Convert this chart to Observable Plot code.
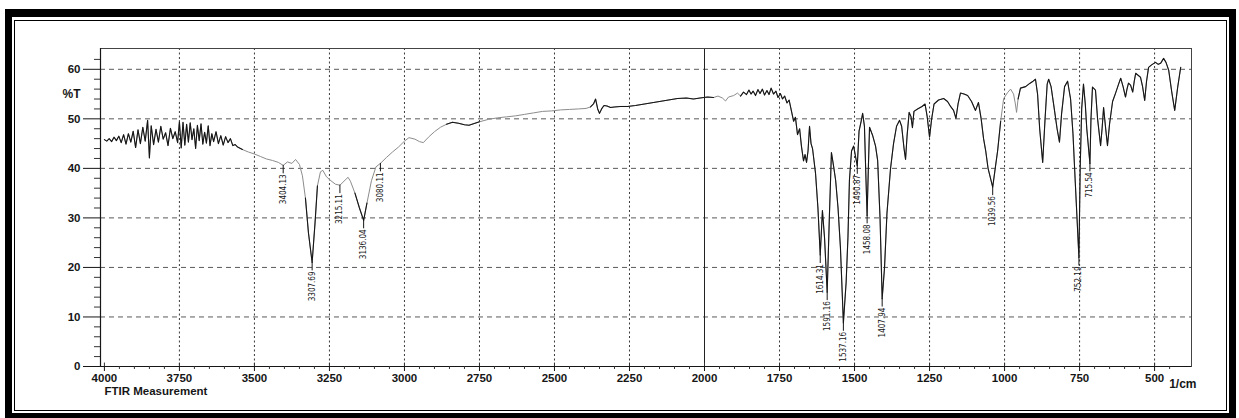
<!DOCTYPE html>
<html>
<head>
<meta charset="utf-8">
<script src="https://cdn.jsdelivr.net/npm/d3@7"></script>
<script src="https://cdn.jsdelivr.net/npm/@observablehq/plot@0.6"></script>
<style>
  html, body { margin: 0; padding: 0; background: #fff; width: 1239px; height: 418px; overflow: hidden; }
  #outer { position: absolute; left: 5px; top: 9px; width: 1231px; height: 411px; box-sizing: border-box;
           border: 7px solid #000; border-top-width: 8px; }
  #inner { position: absolute; left: 2px; top: 3px; right: 2px; bottom: 2px; border: 1px solid #000; }
  #chart { position: absolute; left: 0; top: 0; }
</style>
</head>
<body>
<div id="outer"><div id="inner"></div></div>
<div id="chart"></div>
<script>
// FTIR spectrum, %T against wavenumber (1/cm)

// Noisy water-vapour region, 4000–3556 1/cm
const noisyRegion = [
  [4000,45.8],[3992,45.5],[3984,46.0],[3976,45.4],[3968,46.3],[3960,45.6],[3952,46.5],[3944,45.2],
  [3936,46.8],[3928,44.9],[3920,47.0],[3912,45.3],[3904,47.5],[3896,44.2],[3888,47.8],[3880,45.0],
  [3872,48.3],[3864,45.5],[3856,49.7],[3850,42.1],[3844,48.6],[3836,44.8],[3828,47.9],[3820,45.3],
  [3812,48.5],[3804,45.9],[3796,47.2],[3788,44.6],[3780,48.1],[3772,46.0],[3764,47.4],[3756,45.2],
  [3750,49.4],[3744,44.1],[3738,49.3],[3732,44.7],[3726,48.9],[3720,45.3],[3714,49.2],[3708,45.8],
  [3702,48.0],[3696,44.0],[3690,48.7],[3684,45.6],[3678,49.0],[3672,44.9],[3666,47.3],[3660,45.1],
  [3654,48.6],[3648,44.6],[3642,47.0],[3636,45.4],[3628,47.4],[3620,45.0],[3612,46.6],[3604,44.7],
  [3596,46.4],[3588,45.2],[3580,46.0],[3572,44.6],[3564,44.8],[3556,44.3]
];

// N–H / C–H stretching region, 3540–2015 1/cm
const stretchRegion = [
  [3540,43.8],[3520,43.3],[3500,42.9],[3480,42.4],[3460,41.9],[3440,41.6],[3420,41.2],[3404.13,40.6],
  [3390,41.3],[3375,41.0],[3363,41.8],[3350,40.8],[3340,38.5],[3330,34.0],[3320,27.0],[3307.69,21.0],
  [3298,29.0],[3290,36.5],[3280,39.3],[3272,39.6],[3260,38.3],[3245,37.5],[3230,36.8],[3215.11,36.6],
  [3205,37.2],[3195,37.8],[3188,38.2],[3180,37.4],[3165,35.0],[3150,32.0],[3136.04,29.5],[3125,33.0],
  [3110,37.5],[3095,40.3],[3080.11,41.0],[3060,42.2],[3040,43.3],[3020,44.3],[3000,45.5],[2985,46.2],
  [2965,45.9],[2950,45.4],[2937,45.2],[2920,46.3],[2900,47.4],[2880,48.3],[2860,48.9],[2840,49.3],
  [2820,49.1],[2800,48.8],[2785,48.7],[2770,49.0],[2750,49.4],[2720,49.9],[2690,50.2],[2660,50.4],
  [2630,50.6],[2600,50.9],[2570,51.2],[2540,51.5],[2510,51.6],[2480,51.8],[2450,51.9],[2420,52.0],
  [2395,52.1],[2380,52.4],[2370,53.0],[2363,54.0],[2356,52.0],[2350,51.1],[2343,52.0],[2335,52.7],
  [2325,52.6],[2313,52.3],[2300,52.4],[2280,52.5],[2257,52.5],[2230,52.7],[2200,53.0],[2170,53.3],
  [2140,53.6],[2110,53.9],[2090,54.1],[2060,54.2],[2037,54.0],[2015,54.2]
];

// Double-bond and fingerprint region, 1990–413 1/cm
const fingerprintRegion = [
  [1990,54.4],[1970,54.3],[1955,54.6],[1940,54.2],[1930,53.6],[1920,54.4],[1903,54.7],[1890,55.2],
  [1880,54.6],[1870,55.4],[1860,54.9],[1852,55.8],[1845,55.0],[1838,55.6],[1830,54.7],[1822,55.9],
  [1815,55.1],[1807,56.0],[1800,54.8],[1792,55.7],[1785,54.9],[1778,56.2],[1770,55.0],[1762,55.6],
  [1755,54.3],[1747,55.1],[1740,54.0],[1733,54.6],[1725,53.2],[1718,53.8],[1710,51.5],[1703,49.5],
  [1697,50.3],[1690,46.8],[1683,48.0],[1677,44.5],[1670,41.5],[1665,42.8],[1660,41.2],[1655,43.5],
  [1650,48.5],[1645,45.0],[1640,44.0],[1630,39.0],[1622,32.0],[1614.31,22.5],[1607,31.5],[1600,26.0],
  [1591.16,15.0],[1584,30.0],[1577,43.2],[1570,40.5],[1563,37.6],[1555,32.0],[1547,24.0],[1537.16,8.8],
  [1528,17.0],[1522,26.0],[1517,37.6],[1510,43.5],[1503,44.5],[1497,42.5],[1490.87,40.5],[1485,47.5],
  [1478,49.5],[1473,51.1],[1467,48.5],[1462,38.0],[1458.08,30.5],[1454,40.0],[1450,48.3],[1440,46.7],
  [1430,44.5],[1423,41.6],[1415,30.0],[1407.94,13.7],[1400,20.0],[1392,30.9],[1380,40.0],[1370,45.0],
  [1360,48.5],[1350,49.7],[1343,48.5],[1335,44.0],[1330,41.8],[1325,46.5],[1318,51.3],[1312,50.5],
  [1307,48.2],[1302,51.5],[1290,52.0],[1275,52.5],[1265,53.0],[1258,50.5],[1250,46.3],[1243,50.0],
  [1235,53.0],[1220,53.8],[1203,54.1],[1190,53.5],[1180,52.5],[1170,51.7],[1162,50.1],[1155,53.0],
  [1147,55.2],[1135,55.0],[1123,54.7],[1110,53.5],[1097,51.7],[1087,53.3],[1078,50.0],[1070,46.0],
  [1063,43.6],[1055,40.0],[1039.56,36.2],[1030,40.5],[1023,43.6],[1013,49.5],[1003,54.1],[990,55.3],
  [980,56.0],[970,55.0],[964,53.0],[960,51.3],[955,54.0],[947,56.2],[930,56.5],[915,57.2],
  [905,57.6],[897,58.0],[890,55.0],[883,48.0],[873,41.2],[865,50.0],[858,57.0],[853,58.0],
  [845,56.5],[835,52.3],[825,48.0],[817,45.3],[810,51.0],[800,56.5],[790,57.6],[780,54.0],
  [772,47.0],[765,38.0],[752.19,22.0],[748,40.0],[743,52.0],[737,57.0],[731,53.0],[726,48.0],
  [715.54,41.0],[712,50.0],[707,56.4],[697,55.8],[690,50.0],[680,44.6],[675,48.0],[670,52.3],
  [663,48.0],[657,44.6],[650,49.0],[640,53.5],[630,55.2],[620,57.0],[613,58.2],[605,56.5],
  [597,54.4],[592,56.0],[587,57.2],[580,56.8],[573,55.4],[568,57.5],[563,59.2],[555,58.8],
  [547,58.4],[540,56.5],[533,53.7],[527,57.5],[520,60.4],[510,60.9],[497,61.4],[488,61.0],
  [480,61.2],[470,62.2],[462,61.4],[453,59.8],[443,55.5],[433,51.7],[423,56.4],[413,60.4]
];

// Labelled band minima (wavenumber as printed, %T at the minimum)
const peakWavenumbers = [3404.13, 3307.69, 3215.11, 3136.04, 3080.11, 1614.31, 1591.16, 1537.16,
                         1490.87, 1458.08, 1407.94, 1039.56, 752.19, 715.54];
const peakTransmittance = [40.6, 21.0, 36.6, 29.5, 41.0, 22.5, 15.0, 8.8,
                           40.5, 30.5, 13.7, 36.2, 22.0, 41.0];

// Axis ticks
const xTicks = [4000, 3750, 3500, 3250, 3000, 2750, 2500, 2250, 2000, 1750, 1500, 1250, 1000, 750, 500];
const yTicks = [0, 10, 20, 30, 40, 50, 60];
const xMinor = d3.range(3950, 400, -50).filter(v => v % 250 !== 0);
const yMinor = d3.range(2, 64, 2).filter(v => v % 10 !== 0);

// Wavenumber spans where the recorder pen printed at full darkness (rest is faint)
const strongInk = [[4000, 3540], [3330, 3290], [3165, 3120], [2860, 2740], [2385, 1960], [1885, 1010], [955, 413]];

const X0 = 4013, X1 = 377, Y0 = 0, Y1 = 64.2;

const spectrum = [...noisyRegion, ...stretchRegion, ...fingerprintRegion].map(([wn, t]) => ({wn, t}));
const peaks = peakWavenumbers.map((wn, i) => ({wn, t: peakTransmittance[i], label: wn.toFixed(2)}));
const strongSegments = strongInk.flatMap(([hi, lo], k) =>
  spectrum.filter(d => d.wn <= hi && d.wn >= lo).map(d => ({...d, k})));

const ink = "#161616";

const chart = Plot.plot({
  width: 1239,
  height: 418,
  marginLeft: 100,
  marginRight: 48,
  marginTop: 48,
  marginBottom: 52,
  style: {
    background: "transparent",
    fontFamily: "'Liberation Sans', Arial, sans-serif",
    fontSize: "11.5px",
    fontWeight: "bold",
    color: ink,
    overflow: "visible"
  },
  x: {domain: [X0, X1], ticks: xTicks, tickSize: 5, tickPadding: 2, tickFormat: d => String(d), label: null},
  y: {domain: [Y0, Y1], ticks: yTicks, tickSize: 17, tickPadding: 3, tickFormat: d => String(d), label: null},
  marks: [
    // grid
    Plot.ruleY(yTicks.filter(v => v > 0), {stroke: "#5a5a5a", strokeDasharray: "5,4", strokeWidth: 1}),
    Plot.ruleX(xTicks.filter(v => v !== 4000 && v !== 2000), {stroke: "#3a3a3a", strokeDasharray: "2,2.5", strokeWidth: 1}),
    Plot.ruleX([2000], {stroke: "#222", strokeWidth: 1}),
    // frame and axis lines
    Plot.frame({stroke: "#444", strokeWidth: 1}),
    Plot.ruleX([X0], {stroke: ink, strokeWidth: 1.2}),
    Plot.ruleY([Y0], {stroke: ink, strokeWidth: 1.2}),
    // minor ticks
    Plot.ruleX(xMinor, {y1: 0, y2: -0.6, stroke: "#333"}),
    Plot.ruleX(xTicks, {y1: 0, y2: 0.7, stroke: "#333"}),
    Plot.ruleY(yMinor, {x1: X0, x2: X0 + 20, stroke: "#333"}),
    // spectrum: faint trace underneath, dark trace where the pen printed strongly
    Plot.line(spectrum, {x: "wn", y: "t", stroke: "#8c8c8c", strokeWidth: 1}),
    Plot.line(strongSegments, {x: "wn", y: "t", z: "k", stroke: ink, strokeWidth: 1.1}),
    // band labels
    Plot.ruleX(peaks, {x: "wn", y1: "t", y2: d => d.t - 1.7, stroke: ink, strokeWidth: 1}),
    Plot.text(peaks, {
      x: "wn", y: "t", text: "label", rotate: -90, textAnchor: "end", dy: 9,
      fontSize: 8, fontWeight: "normal",
      fontFamily: "'Liberation Sans Narrow', 'DejaVu Sans Condensed', Arial, sans-serif",
      fill: ink
    }),
    // axis captions
    Plot.text(["%T"], {x: X0, y: 55, text: d => d, textAnchor: "end", dx: -20, fontSize: 12, fill: ink}),
    Plot.text(["FTIR Measurement"], {frameAnchor: "bottom-left", text: d => d, textAnchor: "start",
      lineAnchor: "bottom", dx: 4, dy: 28, fontSize: 11.5, fill: ink}),
    Plot.text(["1/cm"], {frameAnchor: "bottom-right", text: d => d, textAnchor: "end",
      lineAnchor: "bottom", dx: 5, dy: 21, fontSize: 12, fill: ink})
  ]
});

document.getElementById("chart").appendChild(chart);
</script>
</body>
</html>
